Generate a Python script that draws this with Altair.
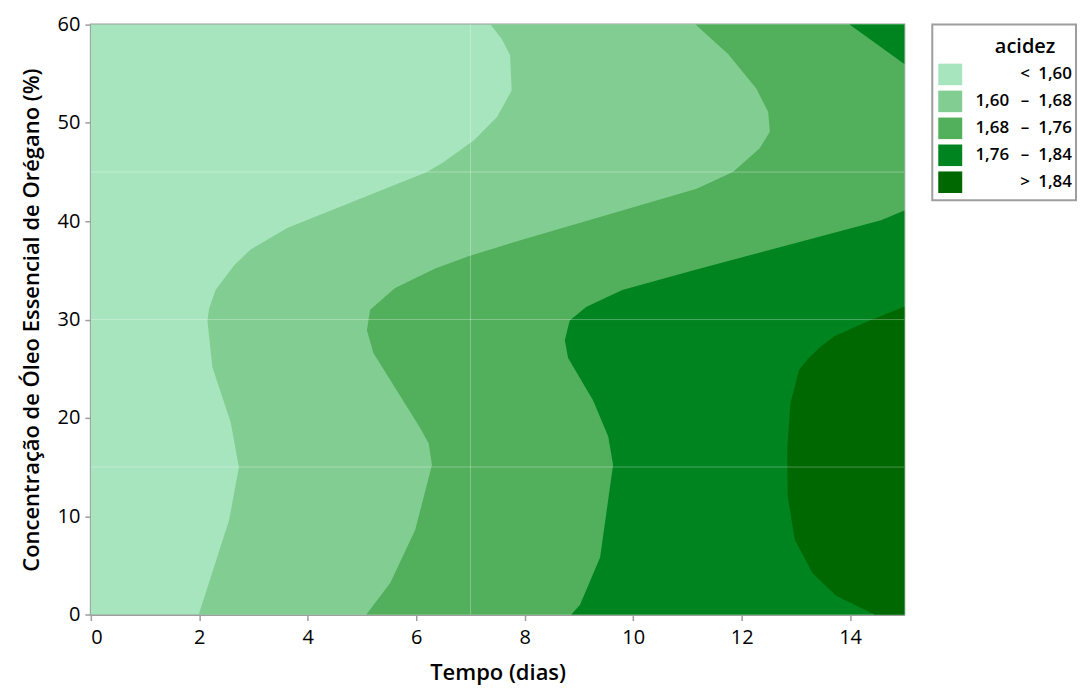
import altair as alt
import pandas as pd

# ---- contour boundaries (x = Tempo for each y = Concentração) ----
b160_y = [0, 9.6, 15.0, 19.5, 25.2, 29.9, 31.1, 33.0, 35.5, 37.1, 39.3, 45.0, 46.0, 48.2, 50.6, 53.3, 56.9, 58.5, 60]
b160_x = [1.99, 2.55, 2.73, 2.58, 2.24, 2.15, 2.18, 2.30, 2.64, 2.94, 3.62, 6.20, 6.50, 7.06, 7.49, 7.76, 7.73, 7.58, 7.37]

b168_y = [0, 3.2, 8.6, 15.2, 17.4, 19.0, 26.6, 28.9, 31.0, 33.2, 35.2, 36.5, 38.2, 43.3, 45.0, 47.4, 49.1, 51.1, 53.5, 57.0, 60]
b168_x = [5.08, 5.52, 5.98, 6.29, 6.23, 6.07, 5.21, 5.09, 5.15, 5.61, 6.35, 6.99, 8.00, 11.17, 11.84, 12.33, 12.52, 12.49, 12.27, 11.75, 11.15]

b176_low_y = [0, 1.0, 5.8, 15.2, 18.1, 21.8, 26.1, 27.9, 29.9, 31.3, 33.0, 35.0, 40.1, 41.1]
b176_low_x = [8.86, 9.02, 9.39, 9.63, 9.54, 9.26, 8.80, 8.74, 8.83, 9.14, 9.80, 11.10, 14.57, 15.0]
b176_up_y = [56.0, 60]
b176_up_x = [15.0, 13.99]

b184_y = [0, 1.9, 4.2, 7.6, 12.0, 16.8, 21.5, 24.9, 26.0, 27.3, 28.3, 29.9, 31.3]
b184_x = [14.45, 13.74, 13.31, 12.98, 12.85, 12.84, 12.90, 13.06, 13.22, 13.47, 13.71, 14.36, 15.0]

base_y = [0, 60]
base_x = [0, 0]

X_MAX = 15
Y_MAX = 60

# reference (grid) lines
ref_y = [15, 30, 45]
ref_x = [7]

# legend
leg_lo = ["", "1,60", "1,68", "1,76", ""]
leg_sep = ["<", "–", "–", "–", ">"]
leg_hi = ["1,60", "1,68", "1,76", "1,84", "1,84"]
colors = ["#A6E5BE", "#82CD91", "#52AF5C", "#008420", "#006800"]

FONT = "Open Sans"

xs = alt.Scale(domain=[0, X_MAX], nice=False, zero=False)
ys = alt.Scale(domain=[0, Y_MAX], nice=False, zero=False)
x_axis = alt.Axis(values=[0, 2, 4, 6, 8, 10, 12, 14], title="Tempo (dias)", grid=False,
                  titlePadding=15, labelPadding=7)
y_axis = alt.Axis(values=[0, 10, 20, 30, 40, 50, 60], title="Concentração de Óleo Essencial de Orégano (%)",
                  grid=False, titlePadding=14, labelPadding=5)

rows = []
for name, xv, yv in [("b0", base_x, base_y), ("b1", b160_x, b160_y), ("b2", b168_x, b168_y),
                     ("b3a", b176_low_x, b176_low_y), ("b3b", b176_up_x, b176_up_y), ("b4", b184_x, b184_y)]:
    for xx, yy in zip(xv, yv):
        rows.append({"band": name, "x": xx, "xe": X_MAX, "y": yy})
df = pd.DataFrame(rows)

band_colors = {"b0": colors[0], "b1": colors[1], "b2": colors[2], "b3a": colors[3], "b3b": colors[3], "b4": colors[4]}

layers = []
for name, col in band_colors.items():
    layers.append(
        alt.Chart(df).transform_filter(alt.datum.band == name).mark_area(
            orient="horizontal", color=col
        ).encode(
            y=alt.Y("y:Q", scale=ys, axis=y_axis),
            x=alt.X("x:Q", scale=xs, axis=x_axis),
            x2="xe:Q",
        )
    )

hr = alt.Chart(pd.DataFrame({"y": ref_y})).mark_rule(color="white", opacity=0.3, strokeWidth=1).encode(
    y=alt.Y("y:Q", scale=ys, axis=y_axis))
vr = alt.Chart(pd.DataFrame({"x": ref_x})).mark_rule(color="white", opacity=0.3, strokeWidth=1).encode(
    x=alt.X("x:Q", scale=xs, axis=x_axis))

main = alt.layer(*layers, hr, vr).properties(width=815, height=591)

# ---- legend panel ----
leg_df = pd.DataFrame({
    "row": list(range(5)),
    "lo": leg_lo, "sep": leg_sep, "hi": leg_hi, "color": colors,
})
leg_df["r0"] = leg_df["row"] - 0.4
leg_df["r1"] = leg_df["row"] + 0.4
ly = alt.Scale(domain=[-1.85, 4.67], reverse=True, nice=False, zero=False)

sw = alt.Chart(leg_df).mark_rect().encode(
    x=alt.value(6), x2=alt.value(30),
    y=alt.Y("r0:Q", scale=ly, axis=None), y2="r1:Q",
    color=alt.Color("color:N", scale=None, legend=None),
)
tfont = dict(font=FONT, fontSize=17, fontWeight=600, color="black", baseline="middle")
t_lo = alt.Chart(leg_df).mark_text(align="right", **tfont).encode(
    x=alt.value(77), y=alt.Y("row:Q", scale=ly, axis=None), text="lo:N")
t_sep = alt.Chart(leg_df).mark_text(align="center", **tfont).encode(
    x=alt.value(93), y=alt.Y("row:Q", scale=ly, axis=None), text="sep:N")
t_hi = alt.Chart(leg_df).mark_text(align="right", **tfont).encode(
    x=alt.value(140), y=alt.Y("row:Q", scale=ly, axis=None), text="hi:N")
t_title = alt.Chart(pd.DataFrame({"row": [-1], "t": ["acidez"]})).mark_text(
    align="center", font=FONT, fontSize=20, fontWeight=600, color="black", baseline="middle").encode(
    x=alt.value(93), y=alt.Y("row:Q", scale=ly, axis=None), text="t:N")

legend = alt.layer(sw, t_lo, t_sep, t_hi, t_title).properties(width=144, height=176)

chart = alt.hconcat(main, legend, spacing=25).properties(
    padding={"left": 11, "top": 5, "right": 0, "bottom": 0},
    background="white",
).configure_view(
    stroke="#9E9E9E", strokeWidth=2
).configure_axis(
    domainColor="#9E9E9E", domainWidth=2, tickColor="#9E9E9E", tickSize=6, tickWidth=1.5,
    labelFont=FONT, labelFontSize=20, labelFontWeight=500, labelColor="black",
    titleFont=FONT, titleFontSize=22, titleFontWeight=600, titleColor="black",
)

chart.save("out.html", embed_options={"renderer": "svg", "actions": False})
